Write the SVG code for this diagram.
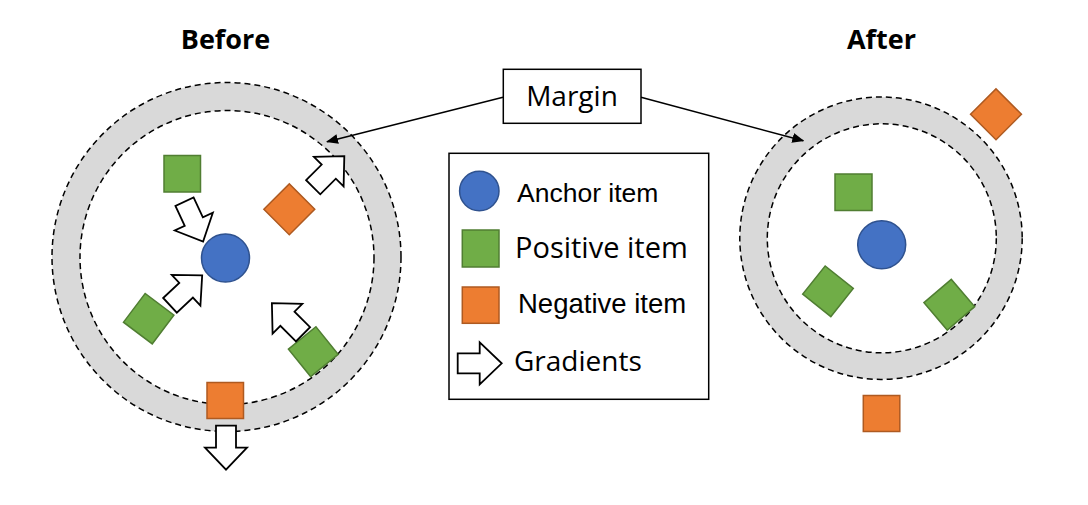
<svg xmlns="http://www.w3.org/2000/svg" width="1088" height="505" viewBox="0 0 1088 505">
<style>
.ring{fill:#D9D9D9;stroke:#000;stroke-width:1.5;stroke-dasharray:6 4}
.inner{fill:#fff;stroke:#000;stroke-width:1.5;stroke-dasharray:6 4}
.anchor{fill:#4472C4;stroke:#2F528F;stroke-width:1.5}
.pos{fill:#70AD47;stroke:#507E32;stroke-width:1.5}
.neg{fill:#ED7D31;stroke:#AE5A21;stroke-width:1.5}
.grad{fill:#fff;stroke:#000;stroke-width:1.8;stroke-linejoin:miter}
.title{font-family:"Open Sans","Liberation Sans",sans-serif;font-weight:bold;font-size:27px;fill:#000}
.lbl{font-family:"Liberation Sans",Arial,sans-serif;font-size:26.5px;fill:#000}
.lbl2{font-family:"Open Sans","Liberation Sans",sans-serif;font-size:28px;fill:#000}
.box{fill:#fff;stroke:#000;stroke-width:1.5}
.conn{stroke:#000;stroke-width:1.5;fill:none}
</style>
<defs>
<marker id="ah" viewBox="0 0 12 10" refX="11" refY="5" markerWidth="12" markerHeight="10" markerUnits="userSpaceOnUse" orient="auto">
<path d="M0,0 L12,5 L0,10 Z" fill="#000"/>
</marker>
<path id="blk" d="M0,-10 L22,-10 L22,-21 L44,0 L22,21 L22,10 L0,10 Z"/>
</defs>
<rect width="1088" height="505" fill="#fff"/>

<text class="title" x="225.5" y="49" text-anchor="middle">Before</text>
<text class="title" x="881.5" y="49" text-anchor="middle">After</text>

<g id="before">
<circle class="ring" cx="226.5" cy="257" r="174.5"/>
<circle class="inner" cx="227" cy="257.5" r="147"/>
<circle class="anchor" cx="225.5" cy="258" r="24"/>
<rect class="pos" x="164" y="155.5" width="36.5" height="36.5"/>
<rect class="neg" x="-18" y="-18" width="36" height="36" transform="translate(289.3,209.3) rotate(45)"/>
<rect class="pos" x="-18" y="-18" width="36" height="36" transform="translate(148.7,318.7) rotate(37)"/>
<rect class="pos" x="-17.7" y="-17.7" width="35.4" height="35.4" transform="translate(313.3,351.7) rotate(51)"/>
<rect class="neg" x="207" y="382.5" width="36.5" height="36"/>
<use href="#blk" class="grad" transform="translate(313.2,187.2) rotate(-45)"/>
<use href="#blk" class="grad" transform="translate(184.5,201.7) rotate(65)"/>
<use href="#blk" class="grad" transform="translate(170,305.3) rotate(-43)"/>
<use href="#blk" class="grad" transform="translate(303,334.3) rotate(-135)"/>
<use href="#blk" class="grad" transform="translate(226,425.7) rotate(90)"/>
</g>

<g id="after">
<circle class="ring" cx="881" cy="238.2" r="141.2"/>
<circle class="inner" cx="881.8" cy="238.3" r="114.5"/>
<circle class="anchor" cx="881.7" cy="244.8" r="24"/>
<rect class="pos" x="835" y="174" width="37" height="36.5"/>
<rect class="pos" x="-18" y="-18" width="36" height="36" transform="translate(828,291.3) rotate(38.6)"/>
<rect class="pos" x="-18" y="-18" width="36" height="36" transform="translate(949.3,304.7) rotate(49.5)"/>
<rect class="neg" x="-18" y="-18" width="36" height="36" transform="translate(996,114.3) rotate(45)"/>
<rect class="neg" x="863.3" y="395.5" width="36.5" height="36"/>
</g>

<g id="connectors">
<line class="conn" x1="503" y1="97.3" x2="327" y2="141.7" marker-end="url(#ah)"/>
<line class="conn" x1="641" y1="97.3" x2="803.3" y2="140.7" marker-end="url(#ah)"/>
</g>

<g id="margin">
<rect class="box" x="503.3" y="69.3" width="137.7" height="54"/>
<text class="lbl2" x="572" y="106" text-anchor="middle">Margin</text>
</g>

<g id="legend">
<rect class="box" x="449" y="153.3" width="259.7" height="246"/>
<circle class="anchor" cx="479.3" cy="191" r="19.7"/>
<text class="lbl" x="517" y="201.5">Anchor item</text>
<rect class="pos" x="462.3" y="230" width="36.7" height="37"/>
<text class="lbl2" x="515" y="258.3" style="font-size:29px">Positive item</text>
<rect class="neg" x="462.3" y="287" width="36.7" height="36.3"/>
<text class="lbl" x="518" y="313.3" style="font-size:27.5px">Negative item</text>
<use href="#blk" class="grad" transform="translate(457.7,363.3)"/>
<text class="lbl2" x="514" y="370.5">Gradients</text>
</g>
</svg>
